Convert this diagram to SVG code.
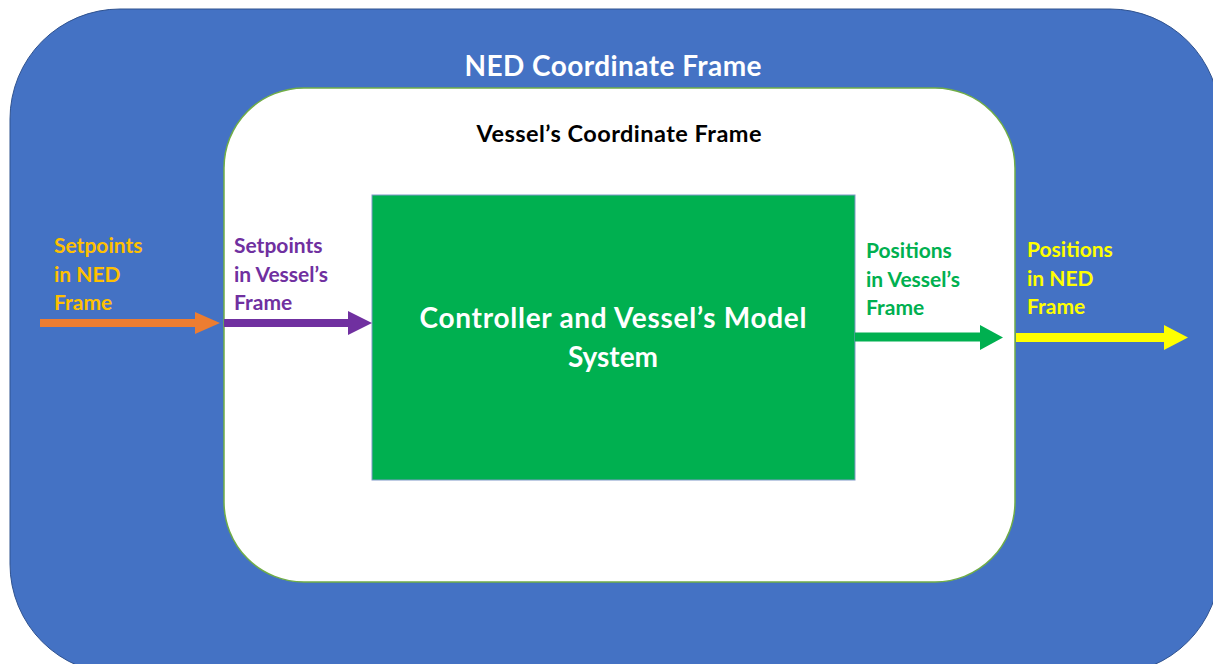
<svg xmlns="http://www.w3.org/2000/svg" width="1213" height="664" viewBox="0 0 1213 664">
<style>
text{font-family:Lato,"Liberation Sans",sans-serif;font-weight:bold}
.lbl{font-size:21px}
.title{font-size:28px}
</style>
<rect width="1213" height="664" fill="#ffffff"/>
<g id="ned-frame">
<rect x="10" y="9" width="1210" height="665" rx="110" ry="110" fill="#4472C4" stroke="#2F528F" stroke-width="1"/>
<text x="613" y="76" text-anchor="middle" fill="#ffffff" class="title" textLength="297">NED Coordinate Frame</text>
</g>
<g id="vessel-frame">
<rect x="224" y="88" width="791" height="494" rx="80" ry="80" fill="#ffffff" stroke="#70AD47" stroke-width="1.5"/>
<text x="619" y="142" text-anchor="middle" fill="#000000" font-size="23.5" textLength="285">Vessel’s Coordinate Frame</text>
</g>
<g id="controller">
<rect x="372" y="195" width="483" height="285" fill="#00B050" stroke="#7F98C8" stroke-width="1"/>
<text x="613" y="328" text-anchor="middle" fill="#ffffff" class="title" textLength="387">Controller and Vessel’s Model</text>
<text x="613" y="367" text-anchor="middle" fill="#ffffff" class="title">System</text>
</g>
<g id="connectors">
<polygon points="40,319 195,319 195,312 220,323 195,334 195,327 40,327" fill="#ED7D31"/>
<polygon points="224,319 348,319 348,311 372,323 348,335 348,327 224,327" fill="#7030A0"/>
<polygon points="855,332.5 980,332.5 980,325 1003,337.5 980,350 980,341.5 855,341.5" fill="#00B050"/>
<polygon points="1016,333 1164,333 1164,325 1188,337.5 1164,350 1164,342 1016,342" fill="#FFFF00"/>
</g>
<g id="label-setpoints-ned" fill="#FFC000">
<text x="54" y="253" class="lbl">Setpoints</text>
<text x="54" y="282" class="lbl">in NED</text>
<text x="54" y="310" class="lbl">Frame</text>
</g>
<g id="label-setpoints-vessel" fill="#7030A0">
<text x="234" y="253" class="lbl">Setpoints</text>
<text x="234" y="282" class="lbl">in Vessel’s</text>
<text x="234" y="310" class="lbl">Frame</text>
</g>
<g id="label-positions-vessel" fill="#00B050">
<text x="866" y="258" class="lbl">Positions</text>
<text x="866" y="287" class="lbl">in Vessel’s</text>
<text x="866" y="315" class="lbl">Frame</text>
</g>
<g id="label-positions-ned" fill="#FFFF00">
<text x="1027" y="257" class="lbl">Positions</text>
<text x="1027" y="286" class="lbl">in NED</text>
<text x="1027" y="314" class="lbl">Frame</text>
</g>
</svg>
